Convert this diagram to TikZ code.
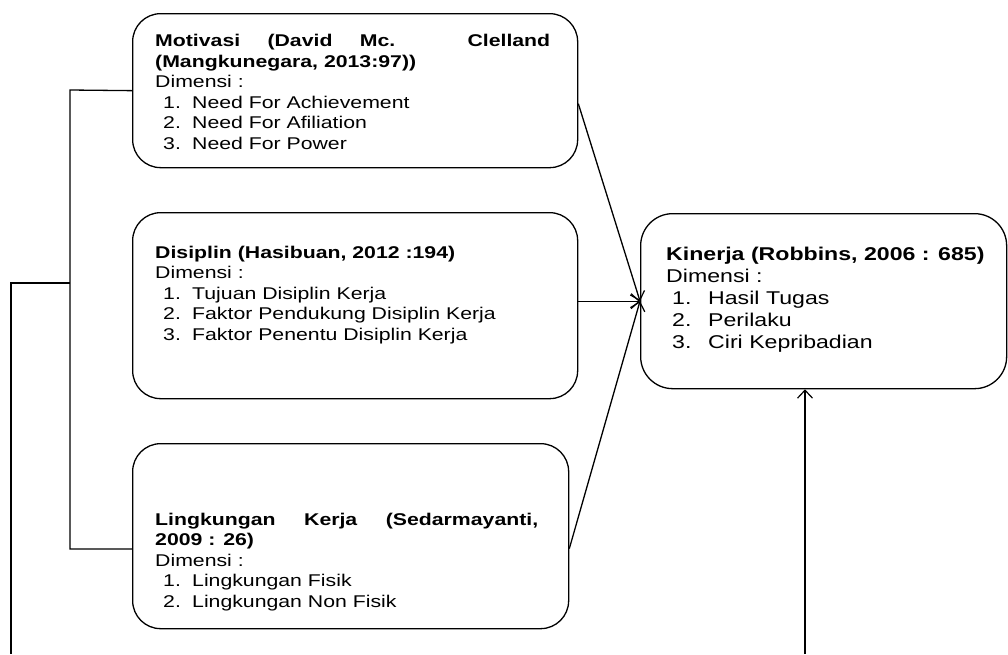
\documentclass[tikz,border=0pt]{standalone}
\usepackage{fontspec}
\setmainfont{Liberation Sans}[FakeStretch=1.25]
\usetikzlibrary{arrows.meta}
\begin{document}
\begin{tikzpicture}[x=1pt,y=-1pt,
  box/.style={draw, line width=1.3pt, rounded corners=28pt, inner sep=0pt, anchor=north west},
  txt/.style={anchor=base west, inner sep=0pt, align=left, font=\fontsize{17}{20.5}\selectfont},
  ktxt/.style={anchor=base west, inner sep=0pt, align=left, font=\fontsize{18.5}{22}\selectfont},
  conn/.style={line width=1.3pt},
  arr/.style={line width=1.3pt, -{Straight Barb[length=8pt,width=15pt,line width=1.2pt]}}]
\useasboundingbox (0,0) rectangle (1008,654);
% boxes
\node[box, minimum width=445pt, minimum height=154pt] (mot) at (132,13) {};
\node[box, minimum width=445pt, minimum height=186pt] (dis) at (132,212) {};
\node[box, minimum width=436pt, minimum height=185pt] (lin) at (132,443) {};
\node[box, minimum width=366pt, minimum height=175pt, rounded corners=32pt] (kin) at (640,213) {};
% texts (anchored at the baseline of their last line)
\node[txt] (motT) at (155,149) {\makebox[395pt][s]{\textbf{Motivasi (David Mc. Clelland}}\\
\textbf{(Mangkunegara, 2013:97))}\\
Dimensi :\\
\hspace*{8pt}\makebox[29pt][l]{1.}Need For Achievement\\
\hspace*{8pt}\makebox[29pt][l]{2.}Need For Afiliation\\
\hspace*{8pt}\makebox[29pt][l]{3.}Need For Power};
\node[txt] (disT) at (155,340) {\textbf{Disiplin (Hasibuan, 2012 :194)}\\
Dimensi :\\
\hspace*{8pt}\makebox[29pt][l]{1.}Tujuan Disiplin Kerja\\
\hspace*{8pt}\makebox[29pt][l]{2.}Faktor Pendukung Disiplin Kerja\\
\hspace*{8pt}\makebox[29pt][l]{3.}Faktor Penentu Disiplin Kerja};
\node[txt] (linT) at (155,607) {\makebox[383pt][s]{\textbf{Lingkungan Kerja (Sedarmayanti,}}\\
\textbf{2009 : 26)}\\
Dimensi :\\
\hspace*{8pt}\makebox[29pt][l]{1.}Lingkungan Fisik\\
\hspace*{8pt}\makebox[29pt][l]{2.}Lingkungan Non Fisik};
\node[ktxt] (kinT) at (666,348) {\textbf{Kinerja (Robbins, 2006 : 685)}\\
Dimensi :\\
\hspace*{6pt}\makebox[36pt][l]{1.}Hasil Tugas\\
\hspace*{6pt}\makebox[36pt][l]{2.}Perilaku\\
\hspace*{6pt}\makebox[36pt][l]{3.}Ciri Kepribadian};
% left connectors
\coordinate (lt) at (70,90);
\coordinate (lb) at (70,549);
\coordinate (lm) at (70,283);
\coordinate (ob) at (11,654);
\draw[conn] (mot.west) -- (lt) -- (lb) -- (lb -| lin.west);
\draw[conn] (lm) -- (lm -| ob) -- (ob);
% arrows to Kinerja
\draw[arr] ([yshift=-13pt]mot.east) -- (kin.west);
\draw[arr] (dis.east |- kin.west) -- (kin.west);
\draw[arr] ([yshift=-12.5pt]lin.east) -- (kin.west);
\coordinate (kb) at (805,654);
\draw[arr] (kb) -- (kb |- kin.south);
\end{tikzpicture}
\end{document}
